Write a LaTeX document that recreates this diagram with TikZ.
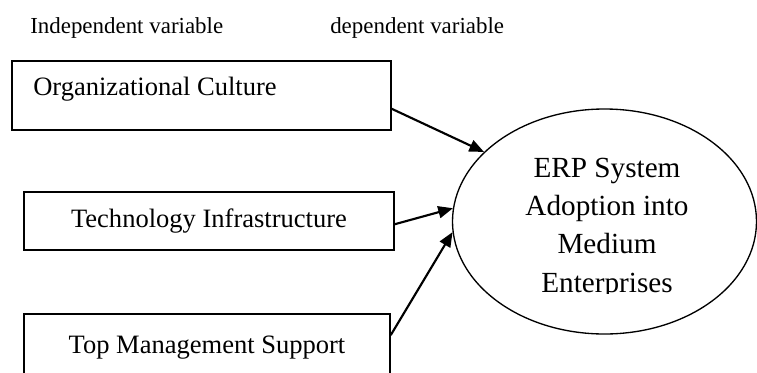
\documentclass[tikz,border=0pt]{standalone}
\usepackage{fontspec}
\setmainfont{Liberation Serif}
\usetikzlibrary{arrows.meta,shapes.geometric}
\tikzset{
  box/.style={draw, line width=1.1pt, inner sep=0pt},
  boxtext/.style={inner sep=0pt, font=\fontsize{19.9}{24}\selectfont},
  head/.style={inner sep=0pt, anchor=base west, font=\fontsize{17.2}{21}\selectfont},
  etext/.style={inner sep=0pt, anchor=base, font=\fontsize{21.9}{26}\selectfont},
  conn/.style={line width=1.6pt, -{Triangle[length=11pt,width=9pt]}},
}
\begin{document}
\begin{tikzpicture}[x=0.75pt,y=-0.75pt]
\clip (0,0) rectangle (757,372);
\fill[white] (0,0) rectangle (757,372);
% headers
\node[head] (h1) at (30,33) {Independent variable};
\node[head] (h2) at (330,33) {dependent variable};
% boxes
\node[box, minimum width=284.25pt, minimum height=51.75pt] (b1) at (201.5,95.5) {};
\node[boxtext, anchor=base west] (t1) at (33,95) {Organizational Culture};
\node[box, boxtext, draw, line width=1.1pt, minimum width=277.5pt, minimum height=43.5pt] (b2) at (209,221) {Technology Infrastructure};
\node[box, boxtext, draw, line width=1.1pt, minimum width=274.5pt, minimum height=51pt] (b3) at (207,348) {Top Management Support};
% ellipse
\node[ellipse, draw, line width=1pt, inner sep=0pt, minimum width=228pt, minimum height=168.75pt] (e) at (604.5,221.5) {};
\begin{scope}
\clip (460,140) rectangle (750,293);
\node[etext] (e1) at (607,177) {ERP System};
\node[etext] (e2) at (607,215) {Adoption into};
\node[etext] (e3) at (607,253) {Medium};
\node[etext] (e4) at (607,292) {Enterprises};
\end{scope}
% connectors
\draw[conn] (b1.-4) -- (e.150.8);
\draw[conn] (b2.-1) -- (e.175);
\draw[conn] (b3.4) -- (e.184.4);
\end{tikzpicture}
\end{document}
